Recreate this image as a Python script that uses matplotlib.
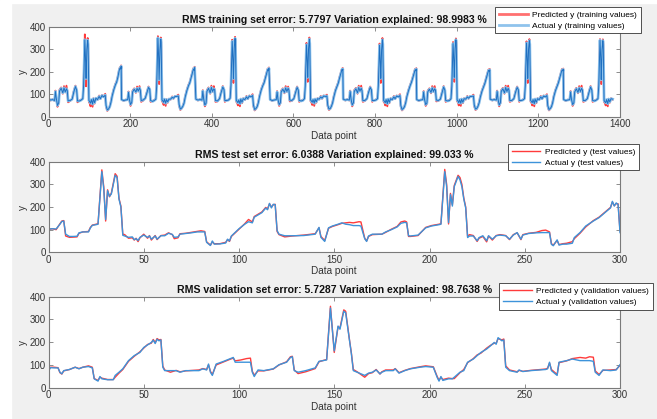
import matplotlib
matplotlib.use("Agg")
import matplotlib.pyplot as plt
from matplotlib.patches import Rectangle
from matplotlib.lines import Line2D

plt.rcParams['font.family'] = ['Liberation Sans', 'DejaVu Sans']

# ---------------- training set (vertices) ----------------
train_x = [
    0,5,10,15,17,19,22,25,27,31,35,38,41,44,46,48,53,58,62,66,69,71,76,80,84,86,89,91,92,94,96,97,99,101,103,105,108,110,113,116,120,124,127,131,135,139,141,144,147,150,153,156,160,164,167,170,173,175,177,178,
    179,184,189,194,196,198,201,204,206,210,214,217,220,223,225,227,232,237,241,245,248,250,255,259,263,265,268,270,271,273,275,276,278,280,282,284,287,289,292,295,299,303,306,310,314,318,320,323,326,329,332,335,339,343,346,349,353,355,357,358,
    361,366,371,376,378,380,383,386,388,392,396,399,402,405,407,409,414,419,423,427,430,432,437,441,445,447,450,452,453,455,457,458,460,462,464,466,469,471,474,477,481,485,488,492,496,500,502,505,508,511,514,517,521,525,528,531,535,537,539,540,
    543,548,553,558,560,562,565,568,570,574,578,581,584,587,589,591,596,601,605,609,612,614,619,623,627,629,632,634,635,637,639,640,642,644,646,648,651,653,656,659,663,667,670,674,678,682,684,687,690,693,696,699,703,707,710,713,717,719,720,721,
    722,727,732,737,739,741,744,747,749,753,757,760,763,766,768,770,775,780,784,788,791,793,798,802,806,808,811,813,814,816,818,819,821,823,825,827,830,832,835,838,842,846,849,853,857,861,863,866,869,872,875,878,882,886,889,892,896,898,900,901,
    902,907,912,917,919,921,924,927,929,933,937,940,943,946,948,950,955,960,964,968,971,973,978,982,986,988,991,993,994,996,998,999,1001,1003,1005,1007,1010,1012,1015,1018,1022,1026,1029,1033,1037,1041,1043,1046,1049,1052,1055,1058,1062,1066,1069,1072,1076,1078,1080,1081,
    1082,1087,1092,1097,1099,1101,1104,1107,1109,1113,1117,1120,1123,1126,1128,1130,1135,1140,1144,1148,1151,1153,1158,1162,1166,1168,1171,1173,1174,1176,1178,1179,1181,1183,1185,1187,1190,1192,1195,1198,1202,1206,1209,1213,1217,1221,1223,1226,1229,1232,1235,1238,1242,1246,1249,1252,1256,1258,1260,1261,
    1262,1267,1272,1277,1279,1281,1284,1287,1289,1293,1297,1300,1303,1306,1308,1310,1315,1320,1324,1328,1331,1333,1338,1342,1346,1348,1351,1353,1354,1356,1358,1359,1361,1363,1365,1367,1370,1372,1375,1378,1382,
]
train_actual = [
    80,74,76,72,112,82,50,62,114,126,106,128,110,124,116,70,72,78,110,134,118,70,70,74,80,138,342,240,170,300,340,322,72,66,60,76,56,80,62,82,76,90,80,94,88,96,50,30,34,44,64,92,120,142,154,176,204,216,212,224,
    76,72,74,76,108,78,54,64,110,122,110,126,114,128,118,72,74,82,106,130,122,72,68,72,78,136,350,255,165,295,345,330,74,70,64,78,60,76,66,78,78,86,82,90,90,92,54,34,38,46,60,88,116,138,150,170,198,212,206,218,
    78,74,76,74,114,80,52,60,112,126,106,130,112,124,120,72,70,80,108,132,120,72,72,74,82,140,335,245,170,305,348,328,72,68,62,74,58,78,64,80,76,88,80,92,88,94,52,32,36,44,62,90,118,138,150,170,196,210,204,215,
    76,72,74,76,110,78,54,62,110,122,108,128,112,126,118,74,72,80,106,130,118,72,70,72,80,136,320,240,175,300,345,325,74,70,64,76,60,78,66,80,78,88,82,92,90,92,52,34,36,46,62,88,116,136,150,172,198,210,206,212,
    78,74,76,74,112,80,52,62,112,124,106,130,114,126,116,72,72,80,108,130,120,72,72,74,80,138,318,235,170,298,342,322,72,68,62,76,58,78,64,80,76,88,80,92,88,94,50,32,36,44,62,90,116,138,152,170,196,208,204,212,
    76,72,74,76,110,78,54,60,110,122,108,128,112,124,118,74,72,78,106,132,118,72,70,72,80,136,325,240,175,302,342,324,74,70,62,76,60,78,64,80,78,88,82,90,90,92,52,34,36,46,62,88,114,134,148,168,194,206,202,208,
    78,74,76,74,112,80,52,62,112,124,106,130,112,126,118,72,72,80,108,130,120,72,72,74,80,138,328,245,170,300,338,322,72,68,62,76,58,78,64,80,76,88,80,92,88,94,50,32,36,44,62,90,116,136,150,170,196,208,204,210,
    76,72,74,76,110,78,54,62,110,124,108,128,112,126,118,72,72,80,108,132,118,72,70,74,80,138,340,250,165,298,338,320,72,66,62,76,58,78,66,80,78,
]
train_pred = [
    82,72,78,70,116,80,44,60,120,130,102,136,108,138,112,64,70,80,114,138,114,64,72,76,82,144,366,232,135,312,350,328,64,60,46,74,44,82,58,84,74,94,78,96,90,102,44,26,32,46,68,96,124,146,158,180,208,220,216,228,
    78,70,76,74,112,76,48,62,116,126,106,134,112,136,114,66,72,84,110,134,118,66,70,74,80,142,358,245,145,305,352,336,68,64,52,76,48,78,62,80,76,90,80,92,92,98,48,30,36,48,64,92,120,142,154,174,202,216,210,222,
    80,72,78,72,118,78,46,58,118,130,102,138,110,136,116,66,68,82,112,136,116,66,74,76,84,146,342,235,150,315,355,334,66,62,50,72,46,80,60,82,74,92,78,94,90,100,46,28,34,46,66,94,122,142,154,174,200,214,208,219,
    78,70,76,74,114,76,48,60,116,126,104,136,110,134,114,68,70,82,110,134,114,66,72,74,82,142,328,230,155,310,352,330,68,64,52,74,48,80,62,82,76,92,80,94,92,98,46,30,34,48,66,92,120,140,154,176,202,214,210,216,
    80,72,78,72,116,78,46,60,118,128,102,138,112,138,112,66,70,82,112,134,116,66,74,76,82,144,325,225,150,308,350,328,66,62,50,74,46,80,60,82,74,92,78,94,90,100,44,28,34,46,66,94,120,142,156,174,200,212,208,216,
    78,70,76,74,114,76,48,58,116,126,104,136,110,136,114,68,70,80,110,136,114,66,72,74,82,142,332,230,155,312,348,330,68,64,50,74,48,80,60,82,76,92,80,92,92,98,46,30,34,48,66,92,118,138,152,172,198,210,206,212,
    80,72,78,72,116,78,46,60,118,128,102,138,110,138,114,66,70,82,112,134,116,66,74,76,82,144,335,235,150,310,345,328,66,62,50,74,46,80,60,82,74,92,78,94,90,100,44,28,34,46,66,94,120,140,154,174,200,212,208,214,
    78,70,76,74,114,76,48,60,116,128,104,136,110,138,114,66,70,82,112,136,114,66,72,76,82,144,345,240,145,308,344,326,66,60,50,74,46,80,62,82,76,
]

# ---------------- test set ----------------
test_x = [0,2,4,6,7,8,9,11,13,15,16,18,21,22,23,25,26,28,29,30,31,32,33,35,36,37,38,39,40,42,44,45,46,47,48,50,52,53,54,56,57,59,61,63,65,66,68,69,72,75,78,80,82,83,85,86,87,90,93,94,95,96,100,103,105,107,108,112,114,115,116,117,118,119,120,121,124,128,134,140,142,143,145,147,149,152,154,156,158,160,163,164,166,167,168,170,175,177,180,183,185,187,188,189,190,194,198,201,205,206,208,209,210,211,212,213,215,216,217,218,219,220,221,223,225,226,228,230,231,233,235,237,240,242,244,246,248,249,252,256,259,261,263,264,265,267,268,270,272,275,276,279,282,286,289,293,295,296,297,298,299,300]
test_actual = [102,104,103,124,136,138,80,70,70,71,86,90,90,108,119,122,124,356,280,145,272,247,258,340,330,235,200,75,72,66,68,56,60,52,66,76,66,72,58,72,58,73,73,84,79,66,68,80,83,86,90,90,90,44,30,50,36,37,41,58,50,72,104,124,135,130,155,175,195,188,216,196,212,210,96,80,73,73,74,80,110,66,48,108,116,124,130,124,122,118,118,116,60,48,72,80,80,90,100,112,128,132,130,73,72,76,108,116,122,124,356,290,131,255,204,290,335,320,290,235,196,65,72,72,51,65,73,51,73,58,73,76,73,58,76,87,58,76,83,86,87,87,87,35,29,55,32,36,36,40,65,87,116,138,153,182,196,225,204,218,211,87]
test_pred = [102,104,100,126,138,140,72,66,67,68,84,90,92,110,120,124,126,364,290,138,276,245,262,347,336,238,204,80,78,62,64,54,62,47,64,80,62,74,54,74,56,74,76,86,78,60,64,82,84,88,92,95,92,46,32,46,38,38,44,56,48,70,102,126,145,134,158,178,198,192,214,200,210,212,92,78,68,72,76,82,108,70,52,106,114,122,128,130,132,130,135,134,62,50,70,78,80,88,102,114,134,138,134,70,70,74,110,118,124,126,366,300,125,260,210,295,340,330,300,240,200,70,78,74,48,62,70,46,72,54,74,78,74,56,78,86,56,78,84,88,96,98,90,38,32,52,34,38,40,47,60,84,112,140,155,184,198,222,206,215,214,95]

# ---------------- validation set ----------------
val_x = [0,1,3,5,6,7,8,11,14,16,18,21,23,24,26,27,28,31,34,35,37,39,42,45,48,50,52,54,55,56,57,58,59,60,61,64,67,69,72,79,81,83,84,85,86,88,92,95,97,98,101,104,106,107,108,110,113,118,121,125,127,128,129,131,135,140,142,146,148,150,152,153,155,156,158,159,160,162,164,166,168,170,172,174,175,177,181,182,184,187,190,195,198,202,204,205,206,207,210,212,213,216,218,220,223,225,227,230,232,234,235,236,238,239,240,242,246,247,249,253,258,261,262,263,264,267,268,272,275,279,282,284,286,287,289,291,295,298,300]
val_actual = [72,88,87,87,68,61,75,80,90,83,90,93,87,39,29,49,39,35,35,54,68,83,119,141,155,177,188,199,209,194,213,206,210,90,75,75,75,68,75,75,83,78,104,68,54,104,116,126,133,112,112,112,112,68,49,78,75,83,101,112,133,136,75,68,75,87,116,122,350,162,271,257,336,329,206,148,75,68,61,54,64,68,78,61,68,75,75,83,64,75,83,90,93,90,46,29,49,32,39,39,46,68,75,112,126,141,155,170,184,199,191,220,206,210,90,75,68,78,71,75,78,80,83,112,75,54,112,119,126,119,119,119,116,68,54,78,75,78,101]
val_pred = [76,90,90,88,66,60,74,80,90,84,90,96,90,40,32,46,42,36,36,46,64,80,116,138,158,174,190,196,212,198,216,210,212,95,78,68,76,70,74,78,84,80,100,72,58,100,114,124,130,118,122,128,130,72,55,74,74,82,100,114,136,138,78,62,70,84,114,124,358,155,268,262,342,336,210,152,80,70,58,46,62,66,80,60,70,78,78,84,66,76,84,92,96,92,50,32,46,36,42,40,40,66,80,110,128,144,152,174,186,196,195,216,210,214,96,78,70,76,72,76,80,82,86,108,80,58,110,118,128,133,130,136,134,74,58,76,78,80,98]

for name, xs, ys in [("train_a", train_x, train_actual), ("train_p", train_x, train_pred),
                     ("test_a", test_x, test_actual), ("test_p", test_x, test_pred),
                     ("val_a", val_x, val_actual), ("val_p", val_x, val_pred)]:
    if len(xs) != len(ys):
        raise SystemExit(f"{name}: {len(xs)} x vs {len(ys)} y")

titles = ["RMS training set error: 5.7797 Variation explained: 98.9983 %",
          "RMS test set error: 6.0388 Variation explained: 99.033 %",
          "RMS validation set error: 5.7287 Variation explained: 98.7638 %"]
legend_pred = ["Predicted y (training values)", "Predicted y (test values)", "Predicted y (validation values)"]
legend_act = ["Actual y (training values)", "Actual y (test values)", "Actual y (validation values)"]
xlims = [1400, 300, 300]
xtick_steps = [200, 50, 50]

W, H = 657, 419
fig = plt.figure(figsize=(W / 100, H / 100), dpi=100, facecolor='#f0f0f0')
fig.patches.append(Rectangle((0, 0), 11 / W, 1, transform=fig.transFigure, color='white', zorder=0))
fig.patches.append(Rectangle((0, 1 - 3 / H), 1, 3 / H, transform=fig.transFigure, color='white', zorder=0))

boxes = [(26.7, 116.7), (161.7, 252.3), (296.7, 387.7)]
legend_anchor = [(641, 7), (639, 144), (653, 283)]
series = [(train_x, train_pred, train_actual), (test_x, test_pred, test_actual), (val_x, val_pred, val_actual)]

red = '#ff3b3b'
blue = '#3d93da'
light_blue = '#8fc3ec'
dark_blue = '#1f6fc0'
gray = '#7a7a7a'
txt = '#333333'

for i in range(3):
    top, bot = boxes[i]
    ax = fig.add_axes([48.5 / W, 1 - bot / H, (620 - 48.5) / W, (bot - top) / H])
    ax.set_facecolor('white')
    xs, yp, ya = series[i]
    if i == 0:
        ax.plot(xs, yp, color=red, lw=1.3)
        ax.plot(xs, ya, color=light_blue, lw=2.0)
        ax.plot(xs, ya, color=dark_blue, lw=0.7)
        handles = [Line2D([], [], color='#ff7070', lw=2.0), Line2D([], [], color=light_blue, lw=2.0)]
    else:
        ax.plot(xs, yp, color=red, lw=1.0)
        ax.plot(xs, ya, color=blue, lw=1.0)
        handles = [Line2D([], [], color=red, lw=1.0), Line2D([], [], color=blue, lw=1.0)]
    ax.set_xlim(0, xlims[i])
    ax.set_ylim(0, 400)
    ax.set_xticks(list(range(0, xlims[i] + 1, xtick_steps[i])))
    ax.set_yticks([0, 100, 200, 300, 400])
    ax.tick_params(direction='in', length=3, width=0.6, color=gray, labelcolor=txt,
                   labelsize=7, top=True, right=True, pad=2)
    for s in ax.spines.values():
        s.set_color(gray)
        s.set_linewidth(0.8)
    ax.set_title(titles[i], fontsize=7.6, fontweight='bold', color='#111111', pad=3)
    ax.set_xlabel("Data point", fontsize=7.2, color=txt, labelpad=1)
    ax.set_ylabel("y", fontsize=7.2, color=txt, labelpad=1)
    lx, ly = legend_anchor[i]
    leg = ax.legend(handles, [legend_pred[i], legend_act[i]], loc='upper right',
                    bbox_to_anchor=(lx / W, 1 - ly / H),
                    bbox_transform=fig.transFigure, fontsize=6.0, frameon=True,
                    fancybox=False, edgecolor='#333333', framealpha=1,
                    handlelength=3.4, handletextpad=0.6, borderpad=0.45,
                    labelspacing=0.4, borderaxespad=0)
    leg.get_frame().set_linewidth(0.6)

fig.savefig("out.png", dpi=100, facecolor=fig.get_facecolor())
